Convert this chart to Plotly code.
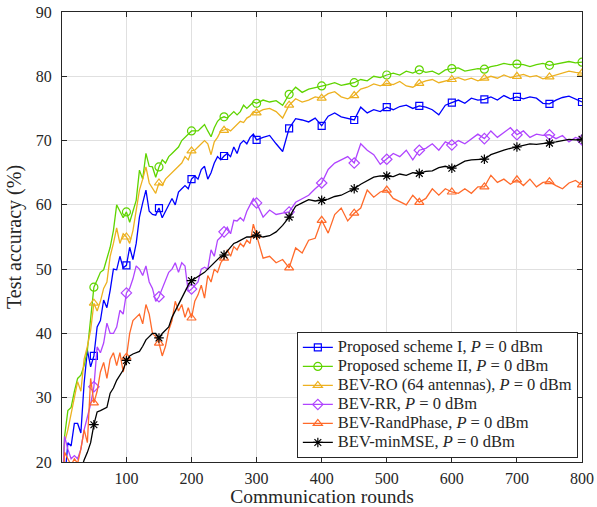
import plotly.graph_objects as go

rounds = [1] + list(range(5, 301, 5)) + list(range(310, 801, 10))

proposed_1 = [12, 17, 23, 22.5, 26, 26, 24.5, 32.3, 37.4, 34.8,
              36.5, 41, 42, 45.2, 44, 46.7, 50, 49.9, 52, 50.2,
              50.6, 53.4, 51.5, 54, 58.1, 60.3, 62.3, 59, 58.5, 58.4,
              59.5, 58, 59, 60, 61, 60, 62, 62.5, 63, 62.5,
              64, 64.5, 64, 65.5, 66, 64, 65, 66.5, 67.5, 67,
              67.6, 68, 67.5, 69, 68, 69.5, 70, 69.5, 70.5, 71,
              70.1,
              70.5, 70.8, 69.5, 68.3, 71.9, 73.4, 73.2, 72.9, 73.5, 72.3,
              73.8, 74.3, 73.7, 73.4, 73.2, 75.2, 74.3, 74.8, 74.5, 75.2,
              74.8, 75.3, 75.5, 75.0, 75.4, 75.2, 74.8, 74.0, 75.5, 75.9,
              76.3, 75.8, 76.6, 76.3, 76.4, 76.8, 76.3, 77, 76.5, 76.8,
              76.5, 76.8, 76.6, 75.8, 75.7, 76.3, 76.7, 76.9, 76.5, 76.0]

proposed_2 = [14, 24, 28, 28.5, 31, 33, 33.5, 35, 37.4, 42,
              47.2, 48.3, 49.5, 49.9, 51.5, 53.4, 56, 60, 59, 58,
              58.9, 57.3, 59, 60.7, 65.4, 64, 68, 66, 65.9, 64.3,
              65.9, 67, 66.5, 67.5, 68, 68.5, 69, 70, 70.5, 71,
              71.5, 71.5, 71.5, 72, 72.5, 71.5, 70.6, 72, 73, 73.5,
              73.7, 73.5, 74, 74.5, 74, 74.5, 75.5, 75, 75.5, 76,
              75.8,
              76.3, 76, 76.2, 75.5, 77.2, 78.3, 77.5, 78, 78.2, 78.5,
              78.7, 79, 78.6, 78.8, 79, 79.5, 79.3, 80, 79.8, 80.2,
              80.5, 80.2, 80.8, 80.5, 81.0, 80.6, 80.8, 80.3, 81, 81.2,
              81.3, 80.8, 81, 81.2, 81.1, 81.5, 81.7, 82, 81.8, 81.9,
              81.8, 81.5, 81.8, 82, 81.7, 81.9, 82.1, 82.3, 82.1, 82.2]

bev_ro = [13, 23, 25, 27.6, 30, 32.5, 31, 36, 38, 40.5,
          44.7, 43.5, 45, 47, 48, 52, 54, 56.4, 54, 55.5,
          55, 54, 56, 59, 62.3, 64, 65.9, 63.4, 62.5, 61.8,
          63.4, 63, 64, 64.5, 65, 65.5, 66, 66.5, 67.5, 67,
          68.4, 68.5, 69, 69.5, 70, 69.5, 67.8, 69.8, 70.5, 71.5,
          71.6, 71.8, 71.5, 72, 72.5, 73, 72.8, 73.5, 73.8, 74.5,
          74.3,
          74.8, 75, 74.5, 73.5, 75.5, 76.5, 76, 76.3, 76.8, 76.6,
          77.3, 77.6, 76.8, 76.5, 77.0, 78, 78.3, 78.8, 78.5, 78.9,
          78.7, 79.2, 78.5, 78.3, 78.9, 79.3, 79.5, 79, 79.3, 79.5,
          79.8, 79.4, 79.7, 79.3, 79.7, 80, 79.7, 80.2, 79.8, 80.0,
          80.3, 79.9, 80.1, 79.6, 79.9, 80.2, 80.4, 80.8, 80.6, 80.5]

bev_rr = [15, 24, 22, 20.5, 21, 20.5, 22, 25, 27, 29,
          31.7, 37.9, 37, 38.5, 41.6, 40, 40, 41, 43.6, 43,
          46.3, 47, 48.5, 50.5, 50, 49, 50.5, 48, 47, 45,
          45.7, 47, 48.5, 49.5, 50, 51, 49.5, 51, 50.5, 46.5,
          46.9, 47.5, 48, 50, 50.3, 50, 53, 52, 54.5, 55,
          55.8, 56.5, 55.5, 57.6, 57.5, 58, 57.5, 59, 60, 61,
          60.3,
          58.1, 59.2, 58.5, 58.7, 58.9, 60.4, 61, 61.5, 62.5, 63.4,
          65.5, 66.5, 67, 67.5, 66.5, 69.5, 68.5, 67.8, 66.3, 67.1,
          68, 67.5, 68.5, 67, 68.5, 68.8, 69.5, 68.5, 69.8, 69.3,
          70, 69.5, 70.2, 71, 70.3, 71.5, 70.5, 71.3, 72, 70.9,
          71.5, 70.5, 71, 70.8, 70.9, 70.3, 70.8, 69.8, 70.5, 70.1]

bev_randphase = [14, 21.5, 20.5, 19.5, 20.5, 19.8, 22, 25, 23, 33,
                 29.2, 31, 34, 35.5, 33, 36, 37, 35, 37, 34,
                 36.3, 40, 42, 42.5, 43, 41.5, 44.5, 43, 40, 39.5,
                 38.5, 36.5, 38, 40.5, 42, 45, 43.5, 44.5, 42.5, 44,
                 42.4, 45, 46, 47.5, 45.5, 49, 48, 50, 49.5, 51,
                 51.7, 53, 52, 53.5, 53, 54, 53.5, 54.5, 54, 57,
                 55.3,
                 51.7, 52, 51, 51.5, 50.2, 53.3, 52.5, 54.5, 54.8, 57.6,
                 55.6, 58.5, 59.5, 57.5, 58.7, 59.5, 62.3, 61.2, 62, 62.3,
                 61, 60.5, 60, 61.5, 60.4, 61, 62.5, 61.5, 62.5, 62.0,
                 61.8, 62.5, 61.8, 62.8, 62.8, 64.6, 63.5, 64, 63.2, 63.9,
                 63, 64, 62.8, 63.5, 63.6, 63, 62.5, 63.4, 63.8, 63.1]

bev_minmse = [12, 13, 14, 15, 16, 17.5, 19, 20.3, 21.5, 23,
              25.8, 27.8, 28, 28.2, 28.5, 30.7, 31.5, 32.7, 33.5, 34.3,
              35.8, 36.5, 36.8, 37, 37.2, 38, 39, 39.5, 40, 40,
              39.3, 40, 40.5, 41, 42.5, 43.5, 44.5, 45.5, 46.5, 47.5,
              48.2, 48.5, 48.8, 49.2, 49.5, 50, 50.5, 51, 51.5, 52,
              52.2, 52.8, 53.5, 54, 54.2, 54.5, 54.8, 55, 55, 55.2,
              55.3,
              55, 55.2, 55.8, 56.8, 58.1, 59.8, 60.3, 60.8, 60.6, 60.7,
              60.9, 61.3, 61.5, 62, 62.5, 63.2, 63.8, 64.3, 64.5, 64.5,
              64.4, 64.8, 64.6, 65, 64.9, 65.2, 65.3, 65.8, 66, 65.7,
              66.2, 66.8, 67, 67, 67.1, 67.8, 68.2, 68.5, 68.8, 69.0,
              69.2, 69.5, 69.4, 69.5, 69.6, 69.8, 70.0, 70.2, 70.1, 70.2]

names = ["Proposed scheme I, <i>P</i> = 0 dBm",
         "Proposed scheme II, <i>P</i> = 0 dBm",
         "BEV-RO (64 antennas), <i>P</i> = 0 dBm",
         "BEV-RR, <i>P</i> = 0 dBm",
         "BEV-RandPhase, <i>P</i> = 0 dBm",
         "BEV-minMSE, <i>P</i> = 0 dBm"]
series = [proposed_1, proposed_2, bev_ro, bev_rr, bev_randphase, bev_minmse]
colors = ["#0000FF", "#5FD400", "#EDB120", "#B045FF", "#FF6A2A", "#000000"]
symbols = ["square-open", "circle-open", "triangle-up-open", "diamond-open",
           "triangle-up-open", "asterisk-open"]
msizes = [7, 8, 8, 8, 8, 8]
marker_step = 50

fig = go.Figure()
mk_idx = [i for i, r in enumerate(rounds) if r % marker_step == 0]
for name, ys, c, s, ms in zip(names, series, colors, symbols, msizes):
    fig.add_trace(go.Scatter(x=rounds, y=ys, mode="lines",
                             line=dict(color=c, width=1.3),
                             showlegend=False, hoverinfo="skip"))
    fig.add_trace(go.Scatter(x=[rounds[i] for i in mk_idx], y=[ys[i] for i in mk_idx],
                             mode="markers",
                             marker=dict(symbol=s, size=ms, color=c,
                                         line=dict(color=c, width=1.2)),
                             showlegend=False, hoverinfo="skip"))
for name, c, s, ms in zip(names, colors, symbols, msizes):
    fig.add_trace(go.Scatter(x=[None], y=[None], mode="lines+markers",
                             name='<span style="font-size:16.5px">' + name + '</span>',
                             line=dict(color=c, width=1.3),
                             marker=dict(symbol=s, size=ms, color=c,
                                         line=dict(color=c, width=1.2))))

axis_common = dict(showline=True, linecolor="#262626", linewidth=1, mirror="ticks",
                   ticks="inside", ticklen=5, tickcolor="#262626",
                   showgrid=True, gridcolor="#E0E0E0", gridwidth=1, zeroline=False,
                   automargin=False,
                   tickfont=dict(size=16, color="#262626"))

fig.update_layout(
    width=597, height=507,
    margin=dict(l=62, r=15, t=12, b=45),
    paper_bgcolor="white", plot_bgcolor="white",
    font=dict(family="Liberation Serif", color="#262626"),
    xaxis=dict(range=[1, 800], tickvals=[100, 200, 300, 400, 500, 600, 700, 800],
               ticklabelstandoff=2,
               title=dict(text="Communication rounds", font=dict(size=19.5), standoff=8),
               **axis_common),
    yaxis=dict(range=[20, 90], tickvals=[20, 30, 40, 50, 60, 70, 80, 90],
               ticklabelstandoff=6,
               title=dict(text="Test accuracy (%)", font=dict(size=20), standoff=8),
               **axis_common),
    legend=dict(x=0.992, y=0.009, xanchor="right", yanchor="bottom",
                bgcolor="white", bordercolor="#262626", borderwidth=1,
                font=dict(size=11, color="#262626"), tracegroupgap=0,
                itemwidth=30),
)

fig.write_html("out.html")
